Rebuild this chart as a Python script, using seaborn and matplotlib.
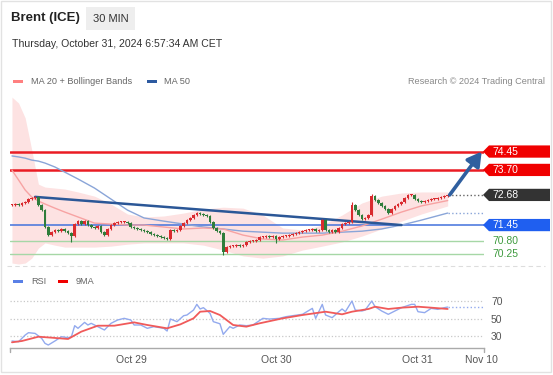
import matplotlib
matplotlib.use("Agg")
import matplotlib.pyplot as plt
import matplotlib.transforms as mtransforms
from matplotlib.patches import Polygon, Rectangle
from matplotlib.lines import Line2D
import seaborn as sns

# 30 min closes, Brent (ICE); open of each bar = previous close
first_open = 72.25
closes = [72.27, 72.31, 72.27, 72.35, 72.39, 72.51, 72.55, 72.59, 72.27, 72.06,
          71.37, 71.04, 71.16, 71.25, 71.20, 71.29, 71.20, 71.12, 71.00, 71.49,
          71.61, 71.49, 71.61, 71.45, 71.37, 71.33, 71.41, 71.16, 71.04, 71.29,
          71.45, 71.53, 71.57, 71.57, 71.57, 71.53, 71.37, 71.33, 71.29, 71.25,
          71.20, 71.16, 71.08, 71.04, 71.00, 70.96, 70.92, 70.88, 71.25, 71.20,
          71.25, 71.41, 71.53, 71.65, 71.74, 71.86, 71.94, 71.90, 71.86, 71.82,
          71.57, 71.33, 71.20, 71.12, 70.35, 70.55, 70.59, 70.59, 70.63, 70.59,
          70.63, 70.76, 70.80, 70.80, 70.84, 70.96, 70.96, 71.00, 70.96, 71.00,
          70.88, 70.96, 71.00, 71.00, 71.04, 71.08, 71.12, 71.16, 71.20, 71.25,
          71.25, 71.29, 71.20, 71.25, 71.65, 71.25, 71.16, 71.25, 71.16, 71.33,
          71.49, 71.53, 71.57, 72.27, 72.06, 71.86, 71.69, 71.74, 71.86, 72.63,
          72.47, 72.35, 72.23, 72.10, 71.94, 72.10, 72.23, 72.31, 72.39, 72.55,
          72.67, 72.67, 72.51, 72.43, 72.39, 72.43, 72.47, 72.51, 72.51, 72.55,
          72.59, 72.63, 72.68]
wick_low_idx = [18, 64, 80]
wick_low_val = [70.76, 70.22, 70.72]
wick_high_idx = [103, 109]
wick_high_val = [72.40, 72.70]

# indicators, read at these bar positions
band_idx = [0, 2, 4, 6, 8, 10, 13, 16, 20, 25, 30, 35, 40, 46, 52, 58, 64, 70,
            76, 82, 88, 94, 100, 106, 112, 118, 124, 132]
ma20 = [73.69, 73.29, 72.88, 72.59, 72.43, 72.31, 72.14, 71.98, 71.78, 71.53,
        71.49, 71.45, 71.45, 71.37, 71.29, 71.33, 71.29, 71.04, 70.88, 70.84,
        70.96, 71.04, 71.20, 71.41, 71.69, 71.98, 72.23, 72.45]
ma50 = [74.27, 74.23, 74.18, 74.10, 74.06, 73.98, 73.82, 73.61, 73.33, 72.96,
        72.51, 72.06, 71.74, 71.61, 71.49, 71.37, 71.29, 71.20, 71.16, 71.12,
        71.12, 71.12, 71.16, 71.20, 71.29, 71.45, 71.65, 71.94]
bb_upper = [76.67, 76.43, 75.82, 74.51, 73.12, 73.00, 72.96, 72.92, 72.80, 72.63,
            72.31, 71.90, 71.78, 71.82, 71.94, 72.10, 72.18, 72.14, 71.86, 71.33,
            71.25, 71.45, 71.86, 72.35, 72.63, 72.76, 72.80, 72.80]
bb_lower = [69.90, 69.86, 69.90, 70.10, 70.51, 70.72, 70.63, 70.55, 70.55, 70.55,
            70.59, 70.67, 70.72, 70.72, 70.72, 70.63, 70.43, 70.19, 70.10, 70.19,
            70.43, 70.59, 70.76, 71.00, 71.29, 71.61, 71.90, 72.23]

trend_idx = [7, 118]
trend_val = [72.60, 71.45]
arrow_idx = [132.6, 142.3]
arrow_val = [72.68, 74.45]

levels = [74.45, 73.70, 72.68, 71.45, 70.80, 70.25]
level_text = ["74.45", "73.70", "72.68", "71.45", "70.80", "70.25"]

rsi_idx = [0, 2, 4, 5, 7, 9, 10, 11, 13, 15, 17, 18, 19, 20, 22, 23, 24, 26, 27, 28,
           30, 32, 34, 36, 37, 39, 41, 43, 46, 47, 48, 50, 52, 53, 55, 56, 57, 58, 60, 61,
           63, 64, 66, 67, 69, 71, 73, 76, 78, 81, 83, 85, 88, 91, 92, 94, 95, 97, 99, 100,
           101, 103, 104, 106, 107, 109, 110, 112, 114, 116, 118, 121, 122, 123, 125, 127,
           129, 131, 132]
rsi_val = [24.3, 23.5, 31.1, 33.8, 33.0, 27.3, 21.6, 19.7, 24.3, 29.2, 28.1, 29.2, 41.8,
           38.8, 45.6, 42.6, 44.5, 40.7, 38.8, 36.9, 44.5, 48.3, 50.2, 48.3, 42.6, 42.6,
           38.8, 40.7, 38.8, 35.7, 49.4, 46.4, 53.2, 54.0, 59.7, 66.2, 60.9, 62.4, 55.9,
           46.4, 44.0, 31.9, 40.7, 38.8, 42.6, 41.8, 42.6, 50.2, 49.4, 50.2, 52.1, 53.2,
           54.8, 61.6, 50.2, 66.2, 54.0, 51.0, 57.8, 60.9, 57.8, 70.0, 59.7, 58.6, 59.7,
           70.0, 63.5, 58.6, 54.8, 58.6, 62.4, 66.2, 66.2, 57.8, 56.7, 61.6, 60.5, 62.4, 63.1]
rsi_ma_idx = [0, 3, 8, 12, 17, 21, 26, 31, 37, 41, 47, 51, 55, 57, 60, 63, 67, 71, 75,
              82, 88, 95, 100, 103, 108, 110, 114, 118, 123, 127, 132]
rsi_ma_val = [22.8, 24.3, 29.2, 28.1, 26.6, 35.0, 41.8, 41.8, 45.6, 42.6, 38.8, 43.3,
              50.2, 57.8, 58.6, 54.0, 42.6, 40.7, 44.5, 50.2, 54.0, 57.8, 54.8, 57.8,
              60.9, 63.5, 60.9, 62.4, 63.5, 62.4, 60.9]

date_pos = [36.2, 80.1, 122.9, 142.2]
date_labels = ["Oct 29", "Oct 30", "Oct 31", "Nov 10"]

sns.set_theme(style="white")
plt.rcParams["font.family"] = ["Liberation Sans", "DejaVu Sans"]

W, H = 553, 375
fig = plt.figure(figsize=(W / 100, H / 100), dpi=100)
fig.patch.set_facecolor("white")


def box(x0, y0, x1, y1):
    # pixel box -> figure fraction rect
    return [x0 / W, 1 - y1 / H, (x1 - x0) / W, (y1 - y0) / H]


def fx(x):
    return x / W


def fy(y):
    return 1 - y / H


ax = fig.add_axes(box(10, 92, 484, 265))
ax_rsi = fig.add_axes(box(10, 290, 484, 348))
xlim = (-0.6, 143.0)

# --- price panel ---
ax.fill_between(band_idx, bb_lower, bb_upper, color="#fde2e2", lw=0, zorder=1)
sns.lineplot(x=band_idx, y=ma50, ax=ax, color="#8aa5d8", lw=1.0, zorder=3)
sns.lineplot(x=band_idx, y=ma20, ax=ax, color="#f7a3a3", lw=1.0, zorder=3)

for v in levels[:2]:
    ax.axhline(v, color="#ea1c24", lw=1.8, zorder=2)
ax.axhline(levels[3], color="#4272dc", lw=1.1, zorder=2)
for v in levels[4:]:
    ax.axhline(v, color="#a6d7a6", lw=1.0, zorder=2)

sns.lineplot(x=trend_idx, y=trend_val, ax=ax, color="#2b5797", lw=1.8, zorder=4)

opens = [first_open] + closes[:-1]
for i, (o, c) in enumerate(zip(opens, closes)):
    col = "#d92b2f" if c >= o else "#2f7d3b"
    hi = max(o, c) + 0.03
    lo = min(o, c) - 0.03
    if i in wick_low_idx:
        lo = wick_low_val[wick_low_idx.index(i)]
    if i in wick_high_idx:
        hi = wick_high_val[wick_high_idx.index(i)]
    ax.vlines(i, lo, hi, color=col, lw=0.8, zorder=5)
    h = max(abs(c - o), 0.05)
    ax.bar(i, h, bottom=min(o, c), width=0.8, color=col, lw=0, zorder=6)

ax.plot([len(closes) - 1, xlim[1]], [closes[-1]] * 2, ls=":", color="#666", lw=1.0, zorder=4)
ax.plot([len(closes) - 1, xlim[1]], [ma50[-1]] * 2, ls=":", color="#8aa5d8", lw=1.0, zorder=4)

ax.annotate("", xy=(arrow_idx[1], arrow_val[1]), xytext=(arrow_idx[0], arrow_val[0]),
            arrowprops=dict(arrowstyle="-|>,head_length=0.7,head_width=0.4",
                            color="#2f5f9f", lw=2.6, shrinkA=0, shrinkB=0), zorder=7)

ax.set_xlim(*xlim)
ax.set_ylim(69.82, 76.88)
ax.set_axis_off()

# right-side price tags
trans = mtransforms.blended_transform_factory(fig.transFigure, ax.transData)
tag_colors = ["#f00000", "#f00000", "#333333", "#1f5ff0"]
hh = 0.25
for v, t, col in zip(levels[:4], level_text[:4], tag_colors):
    pts = [(fx(483), v), (fx(489), v + hh), (fx(550), v + hh), (fx(550), v - hh), (fx(489), v - hh)]
    fig.add_artist(Polygon(pts, closed=True, transform=trans, fc=col, ec="none"))
    fig.text(fx(492), v, t, transform=trans, color="white", fontsize=7.5, va="center")
for v, t in zip(levels[4:], level_text[4:]):
    fig.text(fx(492), v, t, transform=trans, color="#3f9b3f", fontsize=7.5, va="center")

# --- RSI panel ---
ax_rsi.set_xlim(*xlim)
ax_rsi.set_ylim(16.3, 82.6)
sns.lineplot(x=rsi_idx, y=rsi_val, ax=ax_rsi, color="#93aaee", lw=1.0)
sns.lineplot(x=rsi_ma_idx, y=rsi_ma_val, ax=ax_rsi, color="#f05a5a", lw=1.3)
ax_rsi.plot([rsi_idx[-1], xlim[1]], [rsi_val[-1]] * 2, ls=":", color="#93aaee", lw=1.0)
ax_rsi.set_yticks([30, 50, 70])
ax_rsi.yaxis.tick_right()
ax_rsi.grid(axis="y", ls=":", color="#c8c8c8", lw=0.9)
ax_rsi.grid(axis="x", visible=False)
ax_rsi.tick_params(axis="y", length=0, pad=5, labelsize=7.5, labelcolor="#555")
ax_rsi.set_xticks(date_pos)
ax_rsi.set_xticklabels(date_labels)
ax_rsi.tick_params(axis="x", length=0, pad=5, labelsize=7.5, labelcolor="#555")
for s in ["top", "left", "right"]:
    ax_rsi.spines[s].set_visible(False)
ax_rsi.spines["bottom"].set_color("#aaaaaa")
ax_rsi.spines["bottom"].set_linewidth(1.0)
for xe in [0, 1]:
    ax_rsi.plot([xe, xe], [0, -0.07], transform=ax_rsi.transAxes, clip_on=False,
                color="#aaaaaa", lw=1.0)
ax_rsi.set_xlabel("")
ax_rsi.set_ylabel("")

# --- header, legends, frame ---
fig.text(fx(11), fy(18), "Brent (ICE)", fontsize=9.5, fontweight="bold", color="#222", va="center")
fig.add_artist(Rectangle((fx(86), fy(30)), (135 - 86) / W, 23 / H, transform=fig.transFigure,
                         fc="#eeeeee", ec="none"))
fig.text(fx(93), fy(18.5), "30 MIN", fontsize=8, color="#333", va="center")
fig.text(fx(12), fy(44), "Thursday, October 31, 2024 6:57:34 AM CET", fontsize=7.6,
         color="#333", va="center")


def legend_item(x, y, col, label, tx):
    fig.add_artist(Rectangle((fx(x), fy(y + 1.5)), 10 / W, 3 / H, transform=fig.transFigure,
                             fc=col, ec="none"))
    fig.text(fx(tx), fy(y), label, fontsize=6.6, color="#666", va="center")


legend_item(13, 81, "#ff8080", "MA 20 + Bollinger Bands", 31)
legend_item(147, 81, "#2d5aa0", "MA 50", 164)
fig.text(fx(545), fy(81), "Research \u00a9 2024 Trading Central", fontsize=6.6, color="#888",
         va="center", ha="right")
legend_item(13, 281, "#5a80e6", "RSI", 31)
legend_item(58, 281, "#f00000", "9MA", 76)

fig.add_artist(Line2D([fx(7), fx(545)], [fy(266)] * 2, transform=fig.transFigure,
                      ls=(0, (4, 3)), color="#dddddd", lw=0.8))
fig.add_artist(Rectangle((fx(1), fy(372)), 550 / W, 371 / H, transform=fig.transFigure,
                         fc="none", ec="#e2e2e2", lw=1.0))

fig.savefig("out.png", dpi=100)
